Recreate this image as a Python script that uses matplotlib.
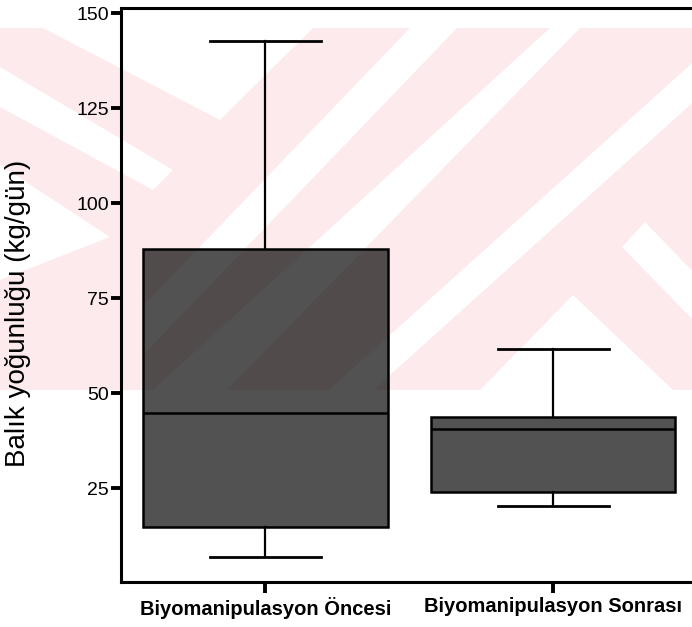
import matplotlib
matplotlib.use('Agg')
import matplotlib.pyplot as plt
from matplotlib.patches import Polygon, Rectangle

plt.rcParams['font.family'] = ['Liberation Sans', 'DejaVu Sans']

# box plot values (kg/gün)
groups = ['Biyomanipulasyon Öncesi', 'Biyomanipulasyon Sonrası']
whislo = [7.0, 20.2]
q1 = [14.9, 23.9]
med = [44.7, 40.6]
q3 = [87.9, 43.7]
whishi = [142.8, 61.7]
yticks = [25, 50, 75, 100, 125, 150]
ylabel = 'Balık yoğunluğu (kg/gün)'

# background watermark shapes (pixels from top-left), not data
W, H = 692, 627
pink_band = (28, 390)
white_shapes = [
    [(43, 28), (313, 28), (220, 120)],
    [(0, 67), (173, 170), (153, 190), (0, 107)],
    [(0, 165), (110, 237), (0, 280)],
    [(410, 28), (457, 28), (143, 355), (143, 306)],
    [(550, 28), (580, 28), (143, 476), (143, 399)],
    [(760, 2), (760, 42), (200, 546), (200, 506)],
    [(573, 295), (480, 390), (673, 390)],
    [(645, 222), (700, 279), (700, 327), (622, 247)],
]

fig = plt.figure(figsize=(W / 100, H / 100), dpi=100)
bg = fig.add_axes([0, 0, 1, 1], zorder=0)
bg.set_xlim(0, W)
bg.set_ylim(H, 0)
bg.axis('off')
rect = Rectangle((0, pink_band[0]), W, pink_band[1] - pink_band[0],
                 facecolor='#fdeaed', edgecolor='none')
bg.add_patch(rect)
for pts in white_shapes:
    p = Polygon(pts, closed=True, facecolor='white', edgecolor='none')
    bg.add_patch(p)
    p.set_clip_path(rect)

ax = fig.add_axes([121.5 / W, (H - 581.7) / H, (697 - 121.5) / W, (581.7 - 8.3) / H], zorder=1)
ax.set_facecolor('none')

stats = []
for i in range(len(groups)):
    stats.append(dict(label=groups[i], whislo=whislo[i], q1=q1[i], med=med[i],
                      q3=q3[i], whishi=whishi[i], fliers=[]))
ax.bxp(stats, positions=[1, 2], widths=0.85, capwidths=0.385, patch_artist=True,
       showfliers=False,
       boxprops=dict(facecolor=(0, 0, 0, 0.68), edgecolor='black', linewidth=1.8),
       medianprops=dict(color='black', linewidth=1.8),
       whiskerprops=dict(color='black', linewidth=1.6),
       capprops=dict(color='black', linewidth=2))

ax.set_xlim(0.5, 2.5)
ax.set_ylim(0.4, 151.3)
ax.set_yticks(yticks)
ax.set_yticklabels([str(t) for t in yticks], fontsize=14)
ax.set_xticks([1, 2])
ax.set_xticklabels(groups, fontsize=14.5, fontweight='bold')
ax.tick_params(axis='y', direction='out', length=7, width=2.8, pad=2)
ax.tick_params(axis='x', direction='out', length=8, width=2.8, pad=3)
for s in ['left', 'bottom', 'top']:
    ax.spines[s].set_linewidth(2.2)
ax.spines['right'].set_visible(False)

fig.text(18 / W, 1 - 313 / H, ylabel, rotation=90, fontsize=20,
         ha='center', va='center')

fig.savefig('out.png', dpi=100)
